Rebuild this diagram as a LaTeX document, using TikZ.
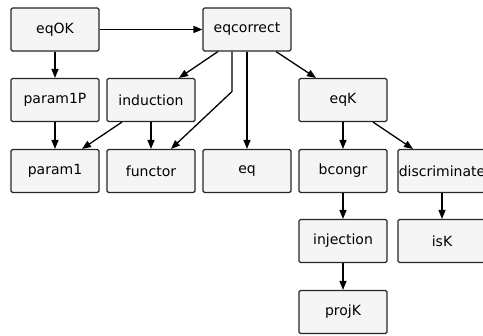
\documentclass[tikz,border=0pt]{standalone}
\usepackage{fontspec}
\setmainfont{DejaVu Sans}
\usetikzlibrary{arrows.meta}
\begin{document}
\begin{tikzpicture}[x=1pt,y=1pt,
  box/.style={draw=black!85, line width=1.1pt, fill=black!4, rounded corners=1.5pt,
    minimum width=88pt, minimum height=43pt, inner sep=0pt, font=\fontsize{14}{16}\selectfont},
  conn/.style={draw=black, line width=1.3pt, -{Triangle[length=9pt,width=7pt]}}]
\useasboundingbox (0,0) rectangle (483,-336);
\node[box] (eqOK) at (55,-29.5) {eqOK};
\node[box] (eqcorrect) at (247,-29.5) {eqcorrect};
\node[box] (param1P) at (55,-100) {param1P};
\node[box] (induction) at (151,-100) {induction};
\node[box] (eqK) at (343,-100) {eqK};
\node[box] (param1) at (55,-171) {param1};
\node[box] (functor) at (151,-171) {functor};
\node[box] (eq) at (247,-171) {eq};
\node[box] (bcongr) at (343,-171) {bcongr};
\node[box] (discriminate) at (442,-171) {discriminate};
\node[box] (injection) at (343,-241) {injection};
\node[box] (isK) at (442,-241) {isK};
\node[box] (projK) at (343,-312) {projK};
\draw[conn] (eqOK) -- (eqcorrect);
\draw[conn] (eqOK) -- (param1P);
\draw[conn] ([xshift=-29pt]eqcorrect.south) -- ([xshift=28pt]induction.north);
\draw[conn] ([xshift=-15pt]eqcorrect.south) -- ++(0,-40) -- ([xshift=20pt]functor.north);
\draw[conn] (eqcorrect) -- (eq);
\draw[conn] ([xshift=29pt]eqcorrect.south) -- ([xshift=-27pt]eqK.north);
\draw[conn] (param1P) -- (param1);
\draw[conn] ([xshift=-29pt]induction.south) -- ([xshift=27pt]param1.north);
\draw[conn] (induction) -- (functor);
\draw[conn] (eqK) -- (bcongr);
\draw[conn] ([xshift=30pt]eqK.south) -- ([xshift=-29pt]discriminate.north);
\draw[conn] (bcongr) -- (injection);
\draw[conn] (discriminate) -- (isK);
\draw[conn] (injection) -- (projK);
\end{tikzpicture}
\end{document}
